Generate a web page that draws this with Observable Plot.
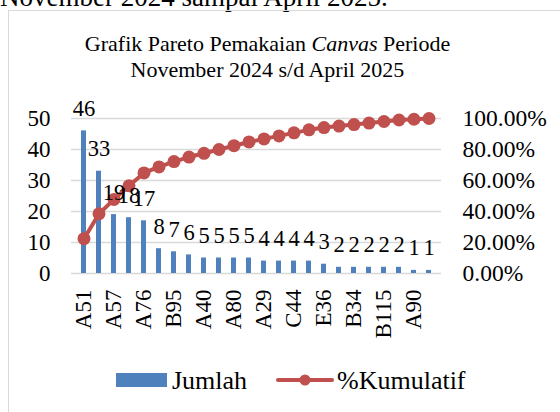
<!DOCTYPE html>
<html>
<head>
<meta charset="utf-8">
<script src="https://cdn.jsdelivr.net/npm/d3@7"></script>
<script src="https://cdn.jsdelivr.net/npm/@observablehq/plot@0.6"></script>
<style>
  html, body { margin:0; padding:0; width:560px; height:412px; overflow:hidden; background:#fff; font-family:'Liberation Serif', serif; }
  #wrap { position:relative; width:560px; height:412px; font-family:'Liberation Serif', serif; }
  #doc { position:absolute; left:0; top:-18px; font-size:27px; white-space:nowrap; color:#000; }
  #box { position:absolute; left:8px; top:10px; width:600px; height:420px; border:1px solid #d9d9d9; box-sizing:border-box; }
  #title { position:absolute; left:0; top:31px; width:535px; text-align:center; font-size:22px; line-height:26px; color:#000; }
  #chart { position:absolute; left:0; top:90px; }
  #chart svg, #chart svg text { font-family:'Liberation Serif', serif; }
  #legend { position:absolute; left:0; top:366px; width:560px; font-size:26px; line-height:30px; color:#000; }
  .lg { position:absolute; top:0; white-space:nowrap; }
</style>
</head>
<body>
<div id="wrap">
  <div id="doc">November 2024 sampai April 2025.</div>
  <div id="box"></div>
  <div id="title">Grafik Pareto Pemakaian <i>Canvas</i> Periode<br>November 2024 s/d April 2025</div>
  <div id="chart"></div>
  <div id="legend">
    <svg class="lg" style="left:116px;top:7px" width="52" height="15"><rect x="0" y="0" width="51" height="14" fill="#4F81BD"></rect></svg>
    <span class="lg" style="left:172px;top:0px">Jumlah</span>
    <svg class="lg" style="left:275px;top:3px" width="62" height="22"><line x1="3" y1="11" x2="57" y2="11" stroke="#C0504D" stroke-width="4" stroke-linecap="round"></line><circle cx="30" cy="11" r="5.5" fill="#C0504D"></circle></svg>
    <span class="lg" style="left:337px;top:0px">%Kumulatif</span>
  </div>
</div>
<script>
// Tick labels (only every other category is labelled in the reference)
const tickLabels = ["A51","","A57","","A76","","B95","","A40","","A80","","A29","","C44","","E36","","B34","","B115","","A90",""];
// Jumlah (count) per category
const jumlah = [46,33,19,18,17,8,7,6,5,5,5,5,4,4,4,4,3,2,2,2,2,2,1,1];
// % Kumulatif per category
const kumulatif = [22.44,38.54,47.80,56.59,64.88,68.78,72.20,75.12,77.56,80.00,82.44,84.88,86.83,88.78,90.73,92.68,94.15,95.12,96.10,97.07,98.05,99.02,99.51,100.00];
// Axis ticks
const leftTicks = [0,10,20,30,40,50];
const rightTicks = ["0.00%","20.00%","40.00%","60.00%","80.00%","100.00%"];

const data = jumlah.map((v, i) => ({i, v, pct: kumulatif[i], label: tickLabels[i]}));
const FONT = "'Liberation Serif', serif";

const chart = Plot.plot({
  width: 560,
  height: 260,
  marginTop: 28,
  marginBottom: 77,
  marginLeft: 71,
  marginRight: 119,
  style: {fontFamily: FONT, fontSize: "23px", color: "#000", background: "transparent", overflow: "visible"},
  x: {type: "band", domain: d3.range(jumlah.length), paddingInner: 0.67, paddingOuter: 0.335, axis: null},
  y: {domain: [0, 50], axis: null},
  marks: [
    Plot.gridY(leftTicks, {stroke: "#d9d9d9", strokeOpacity: 1, strokeWidth: 1.3}),
    Plot.axisY({anchor: "left", ticks: leftTicks, tickSize: 0, tickPadding: 21, label: null, fontSize: 23, fontFamily: FONT}),
    Plot.axisY({anchor: "right", ticks: leftTicks, tickSize: 0, tickPadding: 21, label: null, fontSize: 23.5, fontFamily: FONT,
      tickFormat: d => rightTicks[leftTicks.indexOf(d)]}),
    Plot.axisX({anchor: "bottom", tickRotate: -90, tickSize: 0, tickPadding: 16, label: null, fontSize: 23, fontFamily: FONT,
      tickFormat: i => tickLabels[i]}),
    Plot.barY(data, {x: "i", y: "v", fill: "#4F81BD"}),
    Plot.line(data, {x: "i", y: d => d.pct / 2, stroke: "#C0504D", strokeWidth: 4}),
    Plot.dot(data, {x: "i", y: d => d.pct / 2, r: 6.5, fill: "#C0504D", stroke: "none"}),
    Plot.text(data, {x: "i", y: "v", text: d => String(d.v), dy: -15, lineAnchor: "bottom", fontSize: 22.5, fontFamily: FONT, fill: "#000"})
  ]
});
document.getElementById("chart").appendChild(chart);
</script>
</body>
</html>
